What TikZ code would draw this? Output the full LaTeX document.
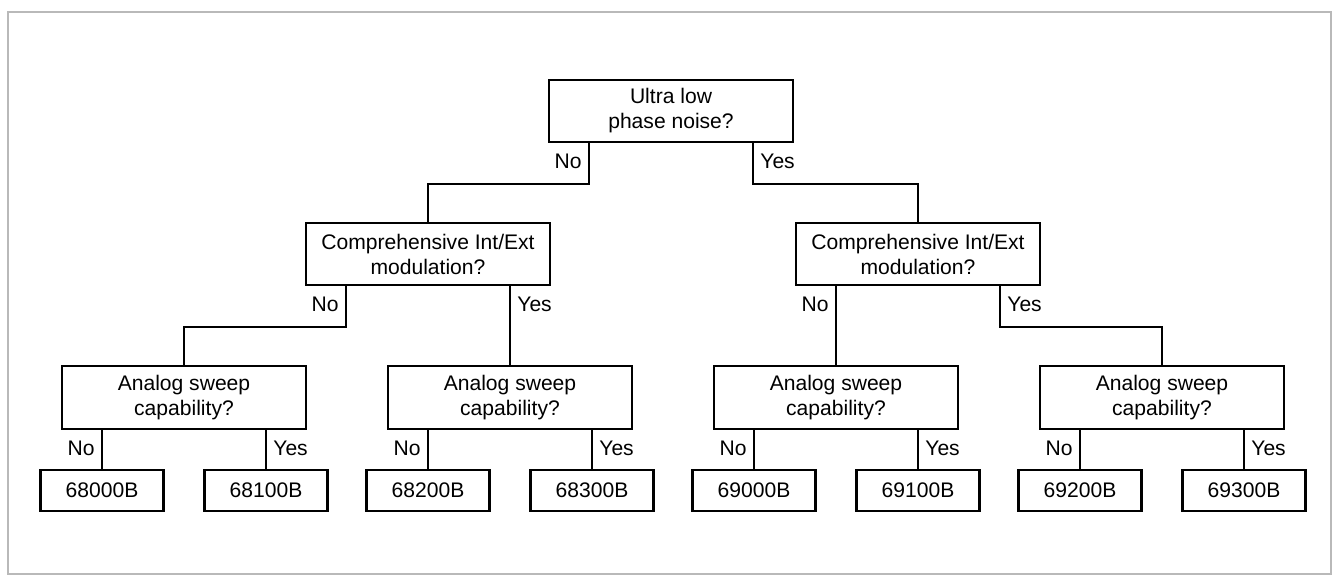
\documentclass[tikz,border=0pt]{standalone}
\usepackage{fontspec}
\setmainfont{Liberation Sans}
\usetikzlibrary{calc,positioning}

\tikzset{
  qbox/.style={draw, line width=1.2pt, minimum width=4.88cm, minimum height=1.25cm, align=center, inner sep=2pt},
  mbox/.style={draw, line width=1.2pt, minimum width=2.46cm, minimum height=0.82cm},
  link/.style={line width=0.9pt},
  ans/.style={inner sep=4pt}
}

\begin{document}
\begin{tikzpicture}[x=0.02cm, y=-0.02cm, font=\fontsize{12}{14.2}\selectfont]
  \useasboundingbox (0,0) rectangle (1339,577);
  \draw[gray!55, line width=1pt] (8,12) rectangle (1331,574);

  % questions
  \node[qbox] (ulpn) at (671,111) {Ultra low\\phase noise?};
  \node[qbox] (modL) at (428,254) {Comprehensive Int/Ext\\modulation?};
  \node[qbox] (modR) at (918,254) {Comprehensive Int/Ext\\modulation?};
  \node[qbox] (sweepA) at (184,397.5) {Analog sweep\\capability?};
  \node[qbox] (sweepB) at (510,397.5) {Analog sweep\\capability?};
  \node[qbox] (sweepC) at (836,397.5) {Analog sweep\\capability?};
  \node[qbox] (sweepD) at (1162,397.5) {Analog sweep\\capability?};

  % models
  \node[mbox] (m68000) at (102,490.5) {68000B};
  \node[mbox] (m68100) at (266,490.5) {68100B};
  \node[mbox] (m68200) at (428,490.5) {68200B};
  \node[mbox] (m68300) at (592,490.5) {68300B};
  \node[mbox] (m69000) at (754,490.5) {69000B};
  \node[mbox] (m69100) at (918,490.5) {69100B};
  \node[mbox] (m69200) at (1080,490.5) {69200B};
  \node[mbox] (m69300) at (1244,490.5) {69300B};

  % branches
  \draw[link] ([xshift=-1.64cm]ulpn.south) -- ++(0,-0.82cm) -| (modL.north);
  \draw[link] ([xshift=1.64cm]ulpn.south) -- ++(0,-0.82cm) -| (modR.north);
  \draw[link] ([xshift=-1.64cm]modL.south) -- ++(0,-0.81cm) -| (sweepA.north);
  \draw[link] (sweepB.north |- modL.south) -- (sweepB.north);
  \draw[link] (sweepC.north |- modR.south) -- (sweepC.north);
  \draw[link] ([xshift=1.64cm]modR.south) -- ++(0,-0.81cm) -| (sweepD.north);
  \foreach \q/\m in {sweepA/m68000, sweepA/m68100, sweepB/m68200, sweepB/m68300,
                     sweepC/m69000, sweepC/m69100, sweepD/m69200, sweepD/m69300}
    \draw[link] (\m.north |- \q.south) -- (\m.north);

  % answers
  \foreach \q in {ulpn, modL, modR, sweepA, sweepB, sweepC, sweepD} {
    \node[ans, anchor=east] (no\q) at ([xshift=-1.64cm,yshift=-0.37cm]\q.south) {No};
    \node[ans, anchor=west] (yes\q) at ([xshift=1.64cm,yshift=-0.37cm]\q.south) {Yes};
  }
\end{tikzpicture}
\end{document}
